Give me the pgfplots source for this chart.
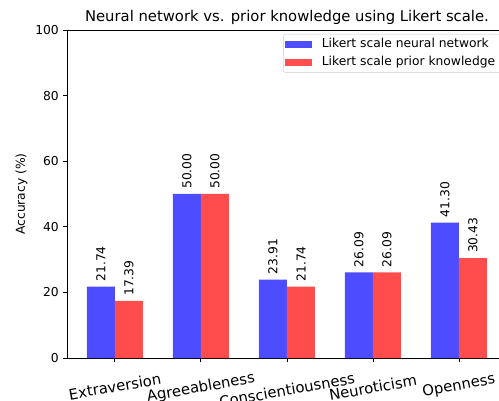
\documentclass[border=0pt]{standalone}
\usepackage{fontspec}
\setmainfont{DejaVu Sans}
\usepackage{pgfplots}
\pgfplotsset{compat=1.18}
\definecolor{nnblue}{RGB}{77,77,255}
\definecolor{pkred}{RGB}{255,77,77}
\newcommand\fa{\fontsize{12.3bp}{14.8bp}\selectfont}
\newcommand\fb{\fontsize{14.8bp}{17.8bp}\selectfont}
\newcommand\labshift[1]{\ifcase#1 24.5\or 26\or 28\or 25.5\or 24\else 25\fi}
\begin{document}
\begin{tikzpicture}
\begin{axis}[
  at={(0,0)}, anchor=south west,
  scale only axis, width=439.9bp, height=328bp,
  xmin=-0.5575, xmax=4.5575, ymin=0, ymax=100,
  ybar, bar width=0.326,
  axis line style={line width=0.9bp},
  tick style={line width=0.9bp, black},
  tick align=outside, major tick length=4bp,
  tick pos=left,
  xtick={0,1,2,3,4},
  xticklabels={Extraversion,Agreeableness,Conscientiousness,Neuroticism,Openness},
  xticklabel style={yshift=-\labshift{\ticknum}bp, font=\fb, rotate=10, anchor=center, inner sep=0pt},
  ytick={0,20,40,60,80,100},
  yticklabel style={font=\fa, anchor=east, inner sep=0pt, xshift=-4bp},
  /pgf/number format/assume math mode=true,
  ylabel={Accuracy (\%)},
  ylabel style={font=\fa, at={(axis description cs:-0.1034,0.5)}, anchor=center},
  title={Neural network vs. prior knowledge using Likert scale.},
  title style={font=\fb, at={(axis description cs:0.5,1)}, anchor=base, yshift=3bp},
  nodes near coords={\pgfmathprintnumber[fixed,fixed zerofill,precision=2]{\pgfplotspointmeta}},
  every node near coord/.append style={font=\fa, rotate=90, anchor=west, inner xsep=5bp, inner ysep=0pt, black},
  legend style={at={(axis description cs:1,1)}, anchor=north east, xshift=-6bp, yshift=-4bp,
    draw=black!20, rounded corners=2bp, fill=white, fill opacity=0.8, text opacity=1,
    font=\fa, inner sep=1.5bp, column sep=6bp,
    nodes={inner xsep=4bp, inner ysep=3.3bp, text height=8.5bp, text depth=2.5bp}},
  legend cell align=left,
  legend image code/.code={\fill[#1, sharp corners, fill opacity=1] (0bp,-3.5bp) rectangle (27bp,3.5bp);},
]
\addplot[fill=nnblue, draw=none, bar shift=-0.163] coordinates {(0,21.74) (1,50.00) (2,23.91) (3,26.09) (4,41.30)};
\addlegendentry{Likert scale neural network}
\addplot[fill=pkred, draw=none, bar shift=0.163] coordinates {(0,17.39) (1,50.00) (2,21.74) (3,26.09) (4,30.43)};
\addlegendentry{Likert scale prior knowledge}
\end{axis}
\pgfresetboundingbox
\path[use as bounding box] (-67bp,-43bp) rectangle (432bp,358bp);
\end{tikzpicture}
\end{document}
